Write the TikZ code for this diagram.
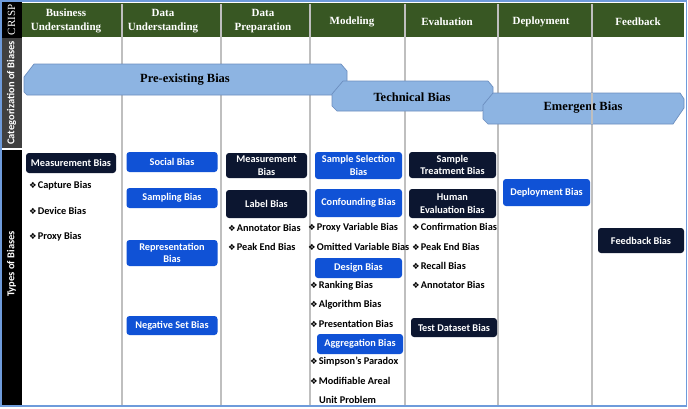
\documentclass[tikz,border=0pt]{standalone}
\usepackage{fontspec}
\setmainfont{Liberation Serif}
\newfontfamily\calib{Carlito}
\newfontfamily\symb{DejaVu Sans}
\usepackage{tikz}
\definecolor{crispgreen}{HTML}{385723}
\definecolor{bannerblue}{HTML}{8DB4E2}
\definecolor{bannerline}{HTML}{6C8EBF}
\definecolor{biasblue}{HTML}{1052D6}
\definecolor{biasnavy}{HTML}{0C1630}
\definecolor{stripgray}{HTML}{404040}
\definecolor{framblue}{HTML}{6E9BDB}
\newcommand{\biasitem}[1]{{\symb\fontsize{8.5}{8.5}\selectfont ❖}\kern1pt#1}
\tikzstyle{phase} = [text=white, font=\bfseries\fontsize{11}{14}\selectfont, align=center]
\tikzstyle{banner} = [fill=bannerblue, draw=bannerline, line width=0.7pt]
\tikzstyle{bannertext} = [font=\bfseries\fontsize{12.5}{14}\selectfont]
\tikzstyle{stripe} = [rotate=90, text=white, font=\calib\bfseries\fontsize{10.5}{12}\selectfont]
\tikzstyle{bluebias} = [rectangle, rounded corners=3pt, fill=biasblue, text=white, align=center,
inner sep=1pt, font=\calib\bfseries\fontsize{10.3}{12.5}\selectfont]
\tikzstyle{navybias} = [bluebias, fill=biasnavy]
\tikzstyle{item} = [anchor=west, inner sep=0pt, font=\calib\bfseries\fontsize{10.3}{12}\selectfont]
\tikzstyle{divider} = [draw=black!25, line width=1.2pt]

\begin{document}
\begin{tikzpicture}[x=1pt, y=-1pt]
\useasboundingbox (0,0) rectangle (688,408);
\fill[white] (0,0) rectangle (688,408);

\fill[black] (1,1) rectangle (22,38);
\fill[stripgray] (1,38) rectangle (22,148);
\fill[black] (1,150) rectangle (22,405);
\node (crisp) [rotate=90, text=white, font=\fontsize{11}{12}\selectfont] at (11.5,20) {CRISP};
\node (catlabel) [stripe] at (11.5,93) {Categorization of Biases};
\node (typelabel) [stripe] at (11.5,264) {Types of Biases};

\fill[crispgreen] (22,3) rectangle (684,37);
\foreach \x in {122,221,310,405,498,592}
  \draw[divider] (\x,4) -- (\x,405);

\node (business) [phase] at (66,21) {Business\\Understanding};
\node (dataund) [phase] at (163,21) {Data\\Understanding};
\node (dataprep) [phase] at (263,21) {Data\\Preparation};
\node (modeling) [phase] at (352,22) {Modeling};
\node (evaluation) [phase] at (447,22) {Evaluation};
\node (deployment) [phase] at (541,22) {Deployment};
\node (feedbackph) [phase] at (638,22) {Feedback};

\filldraw[banner] (34,64) -- (341,64) -- (347,71) -- (347,92) -- (344,95) -- (27,95)
  -- (24,92) -- (24,77) -- cycle;
\filldraw[banner] (343,81) -- (488,81) -- (493,87) -- (493,100) -- (482,111) -- (337,111)
  -- (332,106) -- (332,94) -- cycle;
\filldraw[banner] (493,93) -- (680,93) -- (684,99) -- (684,108) -- (673,124) -- (488,124)
  -- (483,119) -- (483,105) -- cycle;
\node (preexisting) [bannertext] at (185,80) {Pre-existing Bias};
\node (technical) [bannertext] at (412,97) {Technical Bias};
\node (emergent) [bannertext] at (583,108) {Emergent Bias};
\draw[divider] (592,93) -- (592,124);

\node (meas1) [navybias, minimum width=90pt, minimum height=20pt] at (71,163) {Measurement Bias};
\node (capture) [item] at (29,186) {\biasitem{Capture Bias}};
\node (device) [item] at (29,211) {\biasitem{Device Bias}};
\node (proxy) [item] at (29,237) {\biasitem{Proxy Bias}};

\node (social) [bluebias, minimum width=91pt, minimum height=20pt] at (172,162) {Social Bias};
\node (sampling) [bluebias, minimum width=91pt, minimum height=20pt] at (172,198) {Sampling Bias};
\node (representation) [bluebias, minimum width=91pt, minimum height=26pt] at (172,253) {Representation\\Bias};
\node (negset) [bluebias, minimum width=91pt, minimum height=19pt] at (172,325.5) {Negative Set Bias};

\node (meas2) [navybias, minimum width=81pt, minimum height=25pt] at (266.5,165.5) {Measurement\\Bias};
\node (label) [navybias, minimum width=81pt, minimum height=28pt] at (266.5,204) {Label Bias};
\node (annot1) [item] at (228,228) {\biasitem{Annotator Bias}};
\node (peak1) [item] at (228,247) {\biasitem{Peak End Bias}};

\node (samplesel) [bluebias, minimum width=87pt, minimum height=27pt] at (358.5,165.5) {Sample Selection\\Bias};
\node (confound) [bluebias, minimum width=87pt, minimum height=28pt] at (358.5,203) {Confounding Bias};
\node (proxyvar) [item] at (308,228) {\biasitem{Proxy Variable Bias}};
\node (omitted) [item] at (308,247) {\biasitem{Omitted Variable Bias}};
\node (design) [bluebias, minimum width=87pt, minimum height=20pt] at (358.5,268) {Design Bias};
\node (ranking) [item] at (310,286) {\biasitem{Ranking Bias}};
\node (algorithm) [item] at (310,305) {\biasitem{Algorithm Bias}};
\node (presentation) [item] at (310,324) {\biasitem{Presentation Bias}};
\node (aggregation) [bluebias, minimum width=86pt, minimum height=20pt] at (360,344) {Aggregation Bias};
\node (simpson) [item] at (310,362) {\biasitem{Simpson’s Paradox}};
\node (modifiable) [item] at (310,381) {\biasitem{Modifiable Areal}};
\node (unitproblem) [item] at (319,400) {Unit Problem};

\node (sampletreat) [navybias, minimum width=87pt, minimum height=26pt] at (452.5,165) {Sample\\Treatment Bias};
\node (humaneval) [navybias, minimum width=87pt, minimum height=29pt] at (452.5,203.5) {Human\\Evaluation Bias};
\node (confirm) [item] at (412,227) {\biasitem{Confirmation Bias}};
\node (peak2) [item] at (412,247) {\biasitem{Peak End Bias}};
\node (recall) [item] at (412,266) {\biasitem{Recall Bias}};
\node (annot2) [item] at (412,285) {\biasitem{Annotator Bias}};
\node (testds) [navybias, minimum width=86pt, minimum height=19pt] at (454,327.5) {Test Dataset Bias};

\node (deploy) [bluebias, minimum width=87pt, minimum height=27pt] at (546.5,192.5) {Deployment Bias};

\node (feedback) [navybias, minimum width=86pt, minimum height=25pt] at (641,240.5) {Feedback Bias};

\draw[framblue, line width=1.2pt] (1,1) rectangle (686.5,406);
\end{tikzpicture}
\end{document}
